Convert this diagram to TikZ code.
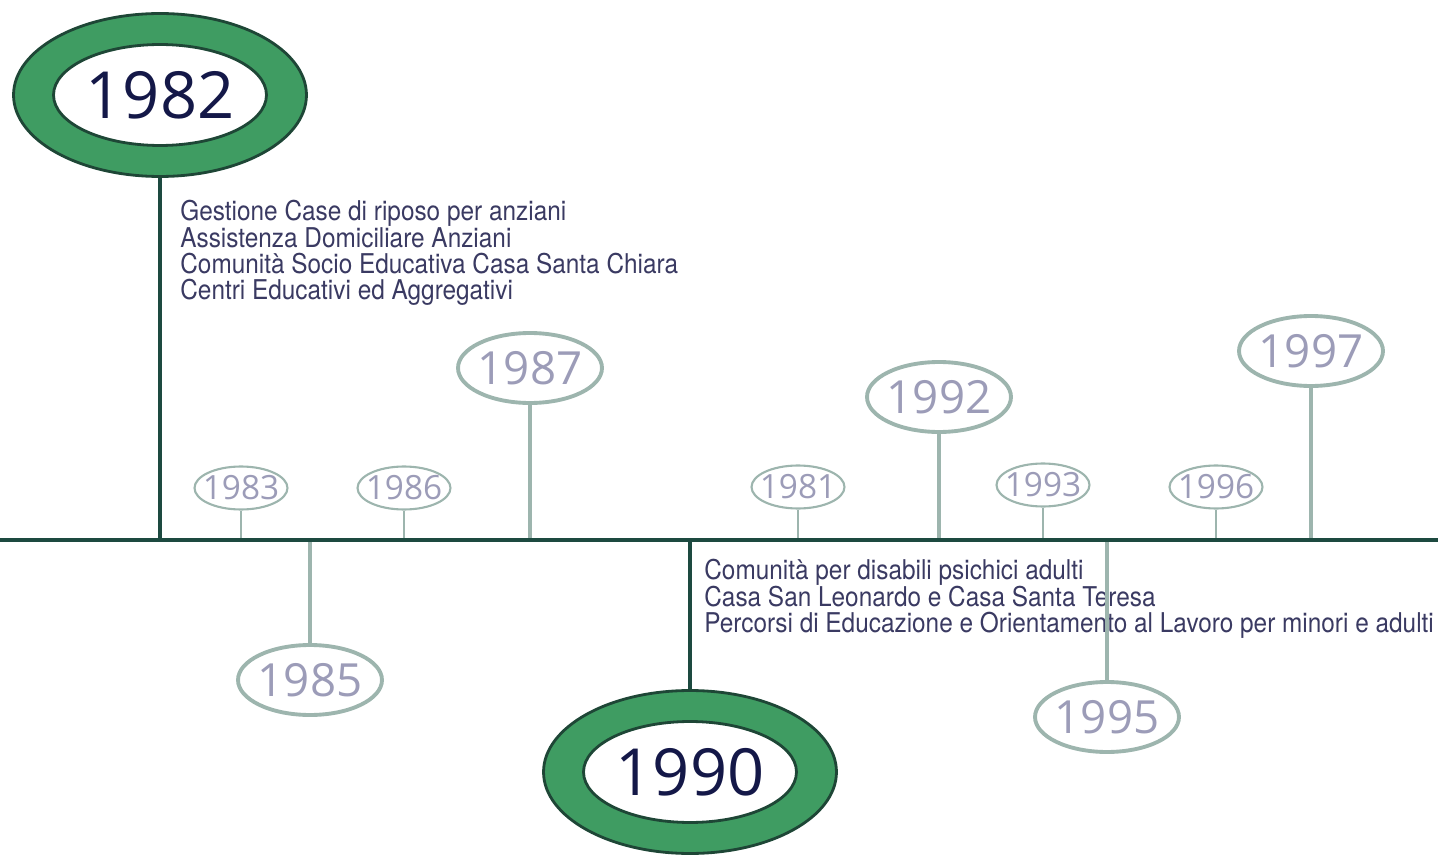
\documentclass[tikz,border=0pt]{standalone}
\usepackage{fontspec}
\usetikzlibrary{shapes.geometric}
\newfontfamily\yearfont{Open Sans}
\newfontfamily\notefont[FakeStretch=0.895]{TeX Gyre Heros}
\definecolor{lineteal}{HTML}{1D4A40}
\definecolor{ringgreen}{HTML}{3F9C62}
\definecolor{ringedge}{HTML}{1E4636}
\definecolor{minorline}{HTML}{9DB5AE}
\definecolor{minortext}{HTML}{9C9CB8}
\definecolor{majortext}{HTML}{141848}
\definecolor{notetext}{HTML}{3A3A62}

\begin{document}
\begin{tikzpicture}[
  x=0.02cm,y=-0.02cm,
  ring/.style={ellipse,draw=ringedge,line width=1.6pt,fill=ringgreen,minimum width=5.86cm,minimum height=3.26cm},
  core/.style={ellipse,draw=ringedge,line width=1.6pt,fill=white,inner sep=0pt,minimum width=4.26cm,minimum height=2.02cm,
    text=majortext,font=\yearfont\fontsize{37}{37}\selectfont},
  minoryear/.style={ellipse,draw=minorline,line width=1.2pt,fill=white,inner ysep=0pt,inner xsep=-4pt,minimum width=1.86cm,minimum height=0.86cm,
    text=minortext,font=\yearfont\fontsize{19}{19}\selectfont},
  midyear/.style={minoryear,line width=2.2pt,minimum width=2.88cm,minimum height=1.4cm,font=\yearfont\fontsize{26}{26}\selectfont},
  note/.style={align=left,anchor=north west,inner sep=0pt,text=notetext,font=\notefont\fontsize{15.5}{15}\selectfont},
  timeline/.style={draw=lineteal,line width=2.8pt},
  majorstem/.style={draw=lineteal,line width=2.8pt},
  stem/.style={draw=minorline,line width=1.1pt},
  tallstem/.style={draw=minorline,line width=2.2pt}]

  \useasboundingbox (0,0) rectangle (1438,855);

  % Points where the years meet the time line
  \coordinate (tl) at (0,540);
  \coordinate (tr) at (1438,540);
  \foreach \yr/\x in {82/160,83/241,85/310,86/404,87/530,90/690,81/798,92/939,93/1043,95/1107,96/1216,97/1311}
    \coordinate (t\yr) at (\x,540);

  % Main years
  \node[ring] (r82) at (160,95) {};
  \node[core] (y82) at (r82) {1982};
  \node[ring] (r90) at (690,772) {};
  \node[core] (y90) at (r90) {1990};

  % Other years
  \node[minoryear] (y83) at (241,488) {1983};
  \node[minoryear] (y86) at (404,488) {1986};
  \node[midyear] (y87) at (530,368) {1987};
  \node[midyear] (y85) at (310,680) {1985};
  \node[minoryear] (y81) at (798,487) {1981};
  \node[midyear] (y92) at (939,397) {1992};
  \node[minoryear] (y93) at (1043,485) {1993};
  \node[midyear] (y95) at (1107,717) {1995};
  \node[minoryear] (y96) at (1216,487) {1996};
  \node[midyear] (y97) at (1311,351) {1997};

  % Notes
  \node[note] (n82) at (180,200) {Gestione Case di riposo per anziani\\Assistenza Domiciliare Anziani\\Comunità Socio Educativa Casa Santa Chiara\\Centri Educativi ed Aggregativi};
  \node[note] (n90) at (704,559) {Comunità per disabili psichici adulti\\Casa San Leonardo e Casa Santa Teresa\\Percorsi di Educazione e Orientamento al Lavoro per minori e adulti};

  % Stems and time line
  \draw[majorstem] (r82) -- (t82);
  \draw[majorstem] (r90) -- (t90);
  \foreach \yr in {83,86,81,93,96}
    \draw[stem] (y\yr) -- (t\yr);
  \foreach \yr in {87,85,92,95,97}
    \draw[tallstem] (y\yr) -- (t\yr);
  \draw[timeline] (tl) -- (tr);
\end{tikzpicture}
\end{document}
